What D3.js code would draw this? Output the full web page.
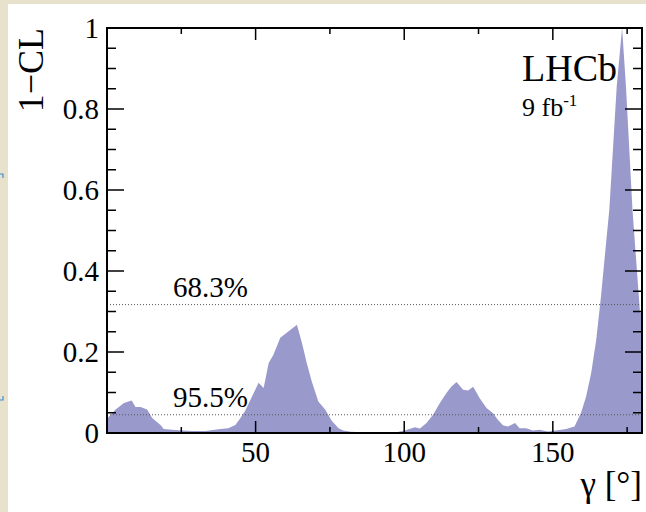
<!DOCTYPE html>
<html>
<head>
<meta charset="utf-8">
<script src="https://cdn.jsdelivr.net/npm/d3@7"></script>
<style>
  body { margin: 0; background: #e8e1cb; }
  text { font-family: "Liberation Serif", "DejaVu Serif", serif; fill: #000; }
</style>
</head>
<body>
<script>
// gamma scan
var gamma = [0, 2.9, 5.7, 8.3, 9.6, 11.3, 13.5, 15.2, 18, 19.1, 21.9, 25.3, 28.6, 33.1, 37.5, 40.8, 43.2, 44.9,
  46.5, 48.8, 51, 52.7, 54.4, 56, 58.3, 61.1, 63.9, 65.6, 67.2, 68.9, 71.1, 73.4, 75.6, 77.9, 79.5, 82, 86, 90,
  97.4, 100.2, 103.6, 105.3, 107.5, 109.7, 112, 114.2, 115.9, 117.6, 119.8, 121.5, 123.2, 125.4, 127.7, 129.9,
  131.5, 133.2, 134.9, 137.3, 138.8, 141, 143.3, 145.5, 148.3, 151.1, 154.5, 157.3, 159.5, 161.2, 162.9, 164.6,
  166.2, 167.7, 169.0, 171.5, 173.3, 174.6, 176.8, 178.5, 179.3, 180];
var pvalue = [0.035, 0.058, 0.074, 0.080, 0.064, 0.064, 0.058, 0.037, 0.020, 0.010, 0.008, 0.006, 0.005, 0.005, 0.009, 0.012, 0.020, 0.037,
  0.055, 0.090, 0.124, 0.111, 0.173, 0.193, 0.235, 0.251, 0.267, 0.222, 0.173, 0.127, 0.078, 0.058, 0.030, 0.012, 0.006, 0.003, 0.002, 0.002,
  0.002, 0.006, 0.014, 0.011, 0.025, 0.045, 0.074, 0.099, 0.115, 0.126, 0.107, 0.105, 0.114, 0.086, 0.062, 0.049,
  0.033, 0.019, 0.016, 0.025, 0.012, 0.012, 0.006, 0.008, 0.004, 0.006, 0.010, 0.016, 0.050, 0.090, 0.148, 0.230,
  0.337, 0.453, 0.551, 0.856, 1.0, 0.856, 0.551, 0.380, 0.300, 0.290];

var clLevels = [0.683, 0.955];
var clLabels = ["68.3%", "95.5%"];
var yMajor = [0, 0.2, 0.4, 0.6, 0.8, 1];
var xMajor = [50, 100, 150];

var W = 646, H = 512;
var pLeft = 107, pRight = 642, pTop = 28, pBottom = 433;

var svg = d3.select("body").append("svg")
  .attr("width", W)
  .attr("height", H);

svg.append("rect").attr("x", 8).attr("y", 4).attr("width", W - 8).attr("height", H - 4).attr("fill", "#fff");

// little blue marks on the left border
svg.append("path").attr("d", "M0,174 h3 v4").attr("stroke", "#3b8fd6").attr("fill", "none").attr("stroke-width", 1.2);
svg.append("path").attr("d", "M0,400 h3 v-4").attr("stroke", "#3b8fd6").attr("fill", "none").attr("stroke-width", 1.2);

var x = d3.scaleLinear().domain([0, 180]).range([pLeft, pRight]);
var y = d3.scaleLinear().domain([0, 1]).range([pBottom, pTop]);

svg.append("clipPath").attr("id", "clip")
  .append("rect").attr("x", pLeft).attr("y", pTop).attr("width", pRight - pLeft).attr("height", pBottom - pTop);

var pts = gamma.map(function(g, i) { return [g, pvalue[i]]; });
var area = d3.area()
  .x(function(d) { return x(d[0]); })
  .y0(y(0))
  .y1(function(d) { return y(d[1]); });

svg.append("path")
  .datum(pts)
  .attr("clip-path", "url(#clip)")
  .attr("fill", "#9999cc")
  .attr("d", area);

// CL lines
clLevels.forEach(function(c, i) {
  svg.append("line")
    .attr("x1", pLeft).attr("x2", pRight)
    .attr("y1", y(1 - c)).attr("y2", y(1 - c))
    .attr("stroke", "#555")
    .attr("stroke-width", 1)
    .attr("stroke-dasharray", "1,2");
  svg.append("text")
    .attr("x", 173)
    .attr("y", y(1 - c) - 8)
    .style("font-size", "29px")
    .text(clLabels[i]);
});

// axes, ROOT style ticks on all sides
var xTicks = d3.range(25, 180, 25);
var yTicks = d3.range(0.05, 1, 0.05);
var ax = svg.append("g").attr("stroke", "#000").attr("stroke-width", 1.5);
xTicks.forEach(function(t) {
  var major = xMajor.indexOf(t) >= 0;
  var len = major ? 12 : 6;
  ax.append("line").attr("x1", x(t)).attr("x2", x(t)).attr("y1", pBottom).attr("y2", pBottom - len);
  ax.append("line").attr("x1", x(t)).attr("x2", x(t)).attr("y1", pTop).attr("y2", pTop + len);
});
yTicks.forEach(function(t) {
  var major = Math.abs(t * 5 - Math.round(t * 5)) < 1e-6;
  var len = major ? 17 : 9;
  ax.append("line").attr("x1", pLeft).attr("x2", pLeft + len).attr("y1", y(t)).attr("y2", y(t));
  ax.append("line").attr("x1", pRight).attr("x2", pRight - len).attr("y1", y(t)).attr("y2", y(t));
});
svg.append("rect")
  .attr("x", pLeft).attr("y", pTop)
  .attr("width", pRight - pLeft).attr("height", pBottom - pTop)
  .attr("fill", "none").attr("stroke", "#000").attr("stroke-width", 2);

svg.selectAll(".xl").data(xMajor).enter().append("text")
  .attr("x", function(d) { return x(d); })
  .attr("y", 462)
  .attr("text-anchor", "middle")
  .style("font-size", "29px")
  .text(function(d) { return d; });

svg.selectAll(".yl").data(yMajor).enter().append("text")
  .attr("x", 99)
  .attr("y", function(d) { return y(d); })
  .attr("dy", "0.34em")
  .attr("text-anchor", "end")
  .style("font-size", "29px")
  .text(function(d) { return d3.format("")(d); });

svg.append("text")
  .attr("transform", "translate(43," + pTop + ") rotate(-90)")
  .attr("text-anchor", "end")
  .style("font-size", "36px")
  .text("1\u2212CL");

svg.append("text")
  .attr("x", pRight)
  .attr("y", 496)
  .attr("text-anchor", "end")
  .style("font-size", "35px")
  .text("\u03b3 [\u00b0]");

svg.append("text")
  .attr("x", 522).attr("y", 81)
  .style("font-size", "38px")
  .text("LHCb");

var lumi = svg.append("text").attr("x", 522).attr("y", 116).style("font-size", "26px");
lumi.append("tspan").text("9 fb");
lumi.append("tspan").attr("dy", -10).style("font-size", "17px").text("-1");
</script>
</body>
</html>
